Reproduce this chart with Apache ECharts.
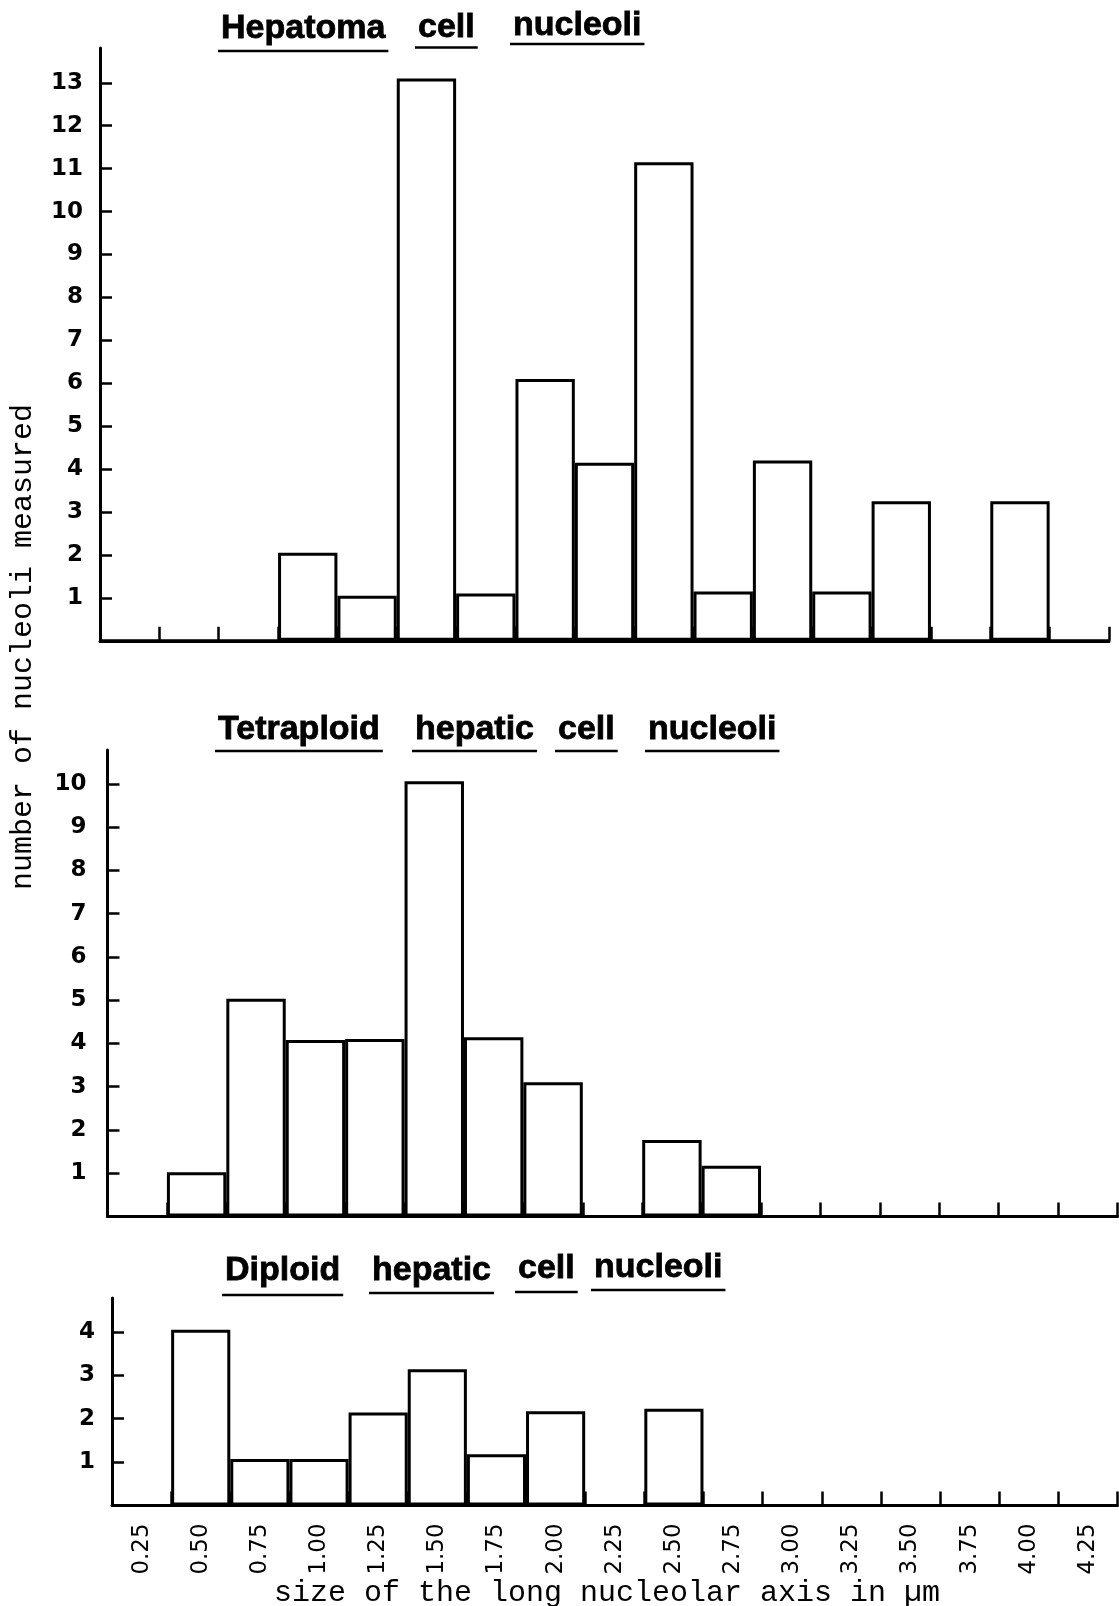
<!DOCTYPE html>
<html><head><meta charset="utf-8">
<script src="https://cdn.jsdelivr.net/npm/echarts@6/dist/echarts.min.js"></script>
<style>html,body{margin:0;padding:0;background:#fff}#c{width:1119px;height:1606px}</style>
</head><body><div id="c"></div>
<script>
// ---- data ----
const categories = ['0.25','0.50','0.75','1.00','1.25','1.50','1.75','2.00','2.25','2.50','2.75','3.00','3.25','3.50','3.75','4.00','4.25'];
const hepatomaCounts   = [0, 0, 0, 2.05, 1.05, 13.1, 1.1, 6.1, 4.15, 11.15, 1.15, 4.2, 1.15, 3.25, 0, 3.25, 0];
const tetraploidCounts = [0, 1.02, 5.03, 4.08, 4.1, 10.06, 4.14, 3.1, 0, 1.77, 1.17, 0, 0, 0, 0, 0, 0];
const diploidCounts    = [0, 4.05, 1.07, 1.07, 2.14, 3.14, 1.18, 2.17, 0, 2.23, 0, 0, 0, 0, 0, 0, 0];
const hepatomaTicks   = [1,2,3,4,5,6,7,8,9,10,11,12,13];
const tetraploidTicks = [1,2,3,4,5,6,7,8,9,10];
const diploidTicks    = [1,2,3,4];
const titles = [['Hepatoma','cell','nucleoli'],['Tetraploid','hepatic','cell','nucleoli'],['Diploid','hepatic','cell','nucleoli']];
const xAxisTitle = 'size of the long nucleolar axis in µm';
const yAxisTitle = 'number of nucleoli measured';

// ---- layout / style ----
const panels = [
  {left:100,   right:10,  top:48,   height:592.8, max:13.81, ticks:hepatomaTicks,   data:hepatomaCounts,   margin:17, showX:false},
  {left:107.5, right:1.5, top:750,  height:466.5, max:10.78, ticks:tetraploidTicks, data:tetraploidCounts, margin:21, showX:false},
  {left:112,   right:1.5, top:1298, height:207.4, max:4.78,  ticks:diploidTicks,    data:diploidCounts,    margin:17, showX:true}
];
const wordPos = [
  [{x:221,y:45.5,u:51},{x:418,y:45,u:47.5},{x:513,y:42.5,u:44}],
  [{x:218,y:746.5,u:751},{x:415,y:746.5,u:751},{x:558,y:746.5,u:751},{x:648,y:746.5,u:751}],
  [{x:225,y:1287.5,u:1295},{x:372,y:1287.5,u:1293},{x:518,y:1285.5,u:1292},{x:594,y:1284.5,u:1290}]
];
const titleFont = 'bold 34px "Liberation Sans"';
const mctx = document.createElement('canvas').getContext('2d');
mctx.font = titleFont;

const graphics = [];
titles.forEach((words, i) => {
  words.forEach((w, j) => {
    const p = wordPos[i][j];
    const wd = mctx.measureText(w).width;
    graphics.push({type:'text', x:p.x, y:p.y, silent:true,
      style:{text:w, font:titleFont, fill:'#000', stroke:'#000', lineWidth:0.8, textAlign:'left', textVerticalAlign:'bottom'}});
    graphics.push({type:'line', silent:true,
      shape:{x1:p.x-3, y1:p.u, x2:p.x+wd+3, y2:p.u},
      style:{stroke:'#000', lineWidth:2.5}});
  });
});
graphics.push({type:'text', x:607, y:1593, silent:true,
  style:{text:xAxisTitle, font:'30px "Liberation Mono"', fill:'#000', textAlign:'center', textVerticalAlign:'middle'}});
graphics.push({type:'text', x:23, y:647, rotation:Math.PI/2, silent:true,
  style:{text:yAxisTitle, font:'30px "Liberation Mono"', fill:'#000', textAlign:'center', textVerticalAlign:'middle'}});

const option = {
  animation:false,
  backgroundColor:'#fff',
  grid: panels.map(p => ({left:p.left, right:p.right, top:p.top, height:p.height, containLabel:false})),
  xAxis: panels.map((p, i) => ({
    type:'category', gridIndex:i, data:categories, boundaryGap:true,
    axisLine:{show:true, lineStyle:{color:'#000', width:3}},
    axisTick:{show:true, inside:true, length:14, lineStyle:{color:'#000', width:2.5}},
    axisLabel:{show:p.showX, rotate:90, margin:18, color:'#000', fontSize:23, fontFamily:'DejaVu Sans', interval:0},
    splitLine:{show:false}
  })),
  yAxis: panels.map((p, i) => ({
    type:'value', gridIndex:i, min:0, max:p.max,
    axisLine:{show:true, lineStyle:{color:'#000', width:3}},
    axisTick:{show:true, inside:true, length:12, customValues:p.ticks, lineStyle:{color:'#000', width:2.5}},
    axisLabel:{show:true, customValues:p.ticks, margin:p.margin, color:'#000', fontSize:23, fontWeight:'bold', fontFamily:'DejaVu Sans'},
    splitLine:{show:false}
  })),
  series: panels.map((p, i) => ({
    type:'bar', xAxisIndex:i, yAxisIndex:i, data:p.data, barCategoryGap:'0%', silent:true,
    itemStyle:{color:'#fff', borderColor:'#000', borderWidth:3}
  })),
  graphic: graphics
};
const chart = echarts.init(document.getElementById('c'), null, {renderer:'canvas'});
chart.setOption(option);
</script></body></html>
